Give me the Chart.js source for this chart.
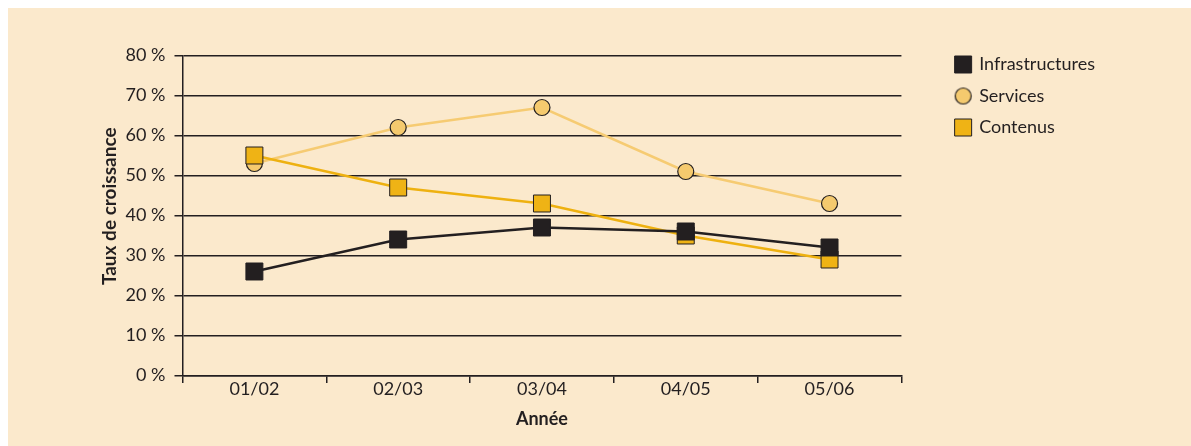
<!DOCTYPE html>
<html>
<head>
<meta charset="utf-8">
<script src="https://cdn.jsdelivr.net/npm/chart.js@4.4.1/dist/chart.umd.min.js"></script>
<style>
  html, body { margin: 0; padding: 0; background: #ffffff; }
  #frame { position: absolute; left: 8px; top: 8px; width: 1183px; height: 438px; background: #fbe9cc; }
  canvas { display: block; }
</style>
</head>
<body>
<div id="frame"><canvas id="chart" width="1183" height="438"></canvas></div>
<script>
// Growth rate per sector, by school year
const years = ['01/02', '02/03', '03/04', '04/05', '05/06'];
const infrastructures = [26, 34, 37, 36, 32];
const services = [53, 62, 67, 51, 43];
const contenus = [55, 47, 43, 35, 29];
const seriesNames = ['Infrastructures', 'Services', 'Contenus'];
const yMin = 0, yMax = 80, yStep = 10;

const INK = '#231f20';
const FONT = "Lato, 'Open Sans', sans-serif";

// layout targets (canvas px)
const PLOT_LEFT = 174.5;
const PLOT_RIGHT = 894.5;
const PAD_TOP = 34;
const TOP_GAP = 13.5;
const LEGEND_LEFT = 935.7;
const PAD_RIGHT = 86;

Chart.defaults.font.family = FONT;
Chart.defaults.color = INK;

// small round swatch for the legend entry of the circle series
function circleSwatch(fill) {
  const c = document.createElement('canvas');
  c.width = 19; c.height = 19;
  const g = c.getContext('2d');
  g.beginPath();
  g.arc(9.5, 9.5, 8, 0, Math.PI * 2);
  g.fillStyle = fill; g.fill();
  g.lineWidth = 1.2; g.strokeStyle = INK; g.stroke();
  return c;
}

const lineDefaults = { tension: 0, borderWidth: 2.5, pointBorderColor: INK, pointBorderWidth: 1 };

new Chart(document.getElementById('chart'), {
  type: 'line',
  data: {
    labels: years,
    datasets: [
      Object.assign({}, lineDefaults, {
        label: seriesNames[0], data: infrastructures, order: 0,
        borderColor: INK, pointStyle: 'rect', pointRadius: 12, pointHoverRadius: 12,
        pointBackgroundColor: INK
      }),
      Object.assign({}, lineDefaults, {
        label: seriesNames[1], data: services, order: 2,
        borderColor: '#f6cb72', pointStyle: 'circle', pointRadius: 8, pointHoverRadius: 8,
        pointBackgroundColor: '#f5ca6e', pointBorderWidth: 1.2
      }),
      Object.assign({}, lineDefaults, {
        label: seriesNames[2], data: contenus, order: 1,
        borderColor: '#eeb110', pointStyle: 'rect', pointRadius: 12, pointHoverRadius: 12,
        pointBackgroundColor: '#efb315'
      })
    ]
  },
  options: {
    responsive: false,
    animation: false,
    events: [],
    layout: { padding: { left: 0, top: PAD_TOP, right: PAD_RIGHT, bottom: 0 } },
    plugins: {
      tooltip: { enabled: false },
      title: { display: false },
      legend: {
        position: 'right',
        align: 'start',
        labels: {
          usePointStyle: true,
          boxWidth: 14,
          boxHeight: 17,
          padding: 13.5,
          color: INK,
          font: { size: 18, family: FONT },
          sort: (a, b) => a.datasetIndex - b.datasetIndex,
          generateLabels: (chart) => chart.data.datasets.map((ds, i) => ({
            text: ds.label,
            datasetIndex: i,
            fillStyle: ds.pointBackgroundColor,
            strokeStyle: INK,
            lineWidth: 1,
            pointStyle: ds.pointStyle === 'circle' ? circleSwatch(ds.pointBackgroundColor) : 'rect',
            hidden: false,
            fontColor: INK
          }))
        }
      }
    },
    scales: {
      x: {
        type: 'category',
        offset: true,
        grid: { display: true, drawOnChartArea: false, drawTicks: true, tickLength: 7.5, color: INK, lineWidth: 1.5, offset: true },
        border: { display: true, color: INK, width: 1.5 },
        ticks: { padding: -5, font: { size: 18 }, color: INK, maxRotation: 0 },
        title: { display: true, text: 'Année', color: INK, font: { size: 18, weight: 'bold' }, padding: { top: 0, bottom: 16 } },
        afterFit: (s) => { s.height = 438 - 367.5; }
      },
      y: {
        min: yMin, max: yMax,
        ticks: { stepSize: yStep, padding: 9, font: { size: 18 }, color: INK, callback: (v) => v + ' %' },
        grid: { color: INK, lineWidth: 1.5, tickLength: 8, drawTicks: true },
        border: { display: true, color: INK, width: 1.5 },
        title: { display: true, text: '    Taux de croissance', color: INK, font: { size: 19, weight: 'bold' }, padding: { top: 90.6, bottom: 0 } },
        afterFit: (s) => { s.width = PLOT_LEFT; }
      },
      // spacer above the plot
      topGap: {
        type: 'linear', position: 'top', display: true,
        grid: { display: false }, border: { display: false }, ticks: { display: false },
        afterFit: (s) => { s.height = TOP_GAP; }
      },
      // spacer between plot and legend
      rightGap: {
        type: 'linear', position: 'right', display: true,
        grid: { display: false }, border: { display: false }, ticks: { display: false },
        afterFit: (s) => { s.width = LEGEND_LEFT - PLOT_RIGHT; }
      }
    }
  }
});
</script>
</body>
</html>
